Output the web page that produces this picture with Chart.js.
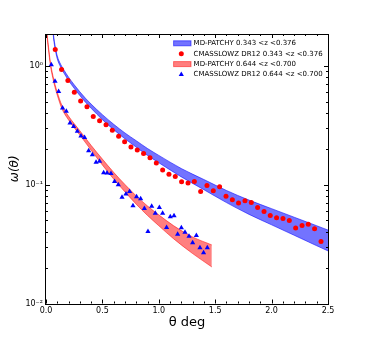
<!DOCTYPE html>
<html>
<head>
<meta charset="utf-8">
<script src="https://cdn.jsdelivr.net/npm/chart.js@4"></script>
<style>
  body { margin: 0; background: #fff; }
  #wrap { width: 365px; height: 338px; }
</style>
</head>
<body>
<div id="wrap"><canvas id="wChart" width="365" height="338"></canvas></div>
<script>
// CMASSLOWZ DR12 0.343<z<0.376 (red dots)
const lowzTheta = [0.082, 0.138, 0.194, 0.251, 0.307, 0.363, 0.419, 0.475, 0.532, 0.588,
  0.644, 0.697, 0.753, 0.809, 0.865, 0.922, 0.978, 1.034, 1.090, 1.146,
  1.202, 1.259, 1.315, 1.371, 1.427, 1.483, 1.539, 1.596, 1.652, 1.707,
  1.764, 1.820, 1.876, 1.933, 1.988, 2.044, 2.101, 2.157, 2.213, 2.270,
  2.325, 2.381, 2.438];
const lowzW = [1.37, 0.93, 0.75, 0.60, 0.505, 0.452, 0.375, 0.344, 0.319, 0.287,
  0.255, 0.229, 0.207, 0.196, 0.183, 0.168, 0.152, 0.133, 0.1225, 0.117,
  0.1056, 0.103, 0.106, 0.0877, 0.0985, 0.0887, 0.0962, 0.080, 0.0745, 0.0699,
  0.0731, 0.0708, 0.0643, 0.0594, 0.0550, 0.0526, 0.0519, 0.0500, 0.0431, 0.0454,
  0.0465, 0.0425, 0.0333];

// CMASSLOWZ DR12 0.644<z<0.700 (blue triangles)
const highzTheta = [0.047, 0.080, 0.112, 0.147, 0.180, 0.213, 0.245, 0.278, 0.310, 0.342,
  0.378, 0.411, 0.444, 0.475, 0.511, 0.541, 0.576, 0.608, 0.641, 0.674,
  0.709, 0.741, 0.771, 0.803, 0.839, 0.872, 0.904, 0.937, 0.969, 1.005,
  1.034, 1.069, 1.102, 1.135, 1.167, 1.200, 1.232, 1.268, 1.300, 1.333,
  1.365, 1.397, 1.430];
const highzW = [1.02, 0.739, 0.608, 0.442, 0.414, 0.330, 0.308, 0.281, 0.257, 0.249,
  0.193, 0.178, 0.154, 0.157, 0.1257, 0.125, 0.124, 0.1064, 0.0996, 0.0785,
  0.0832, 0.0877, 0.0663, 0.0789, 0.0759, 0.0630, 0.0404, 0.0659, 0.0575, 0.0643,
  0.0575, 0.0436, 0.0536, 0.0546, 0.0383, 0.0433, 0.0398, 0.0368, 0.0324, 0.0373,
  0.0294, 0.0267, 0.0294];

// MD-PATCHY 0.343<z<0.376 band (blue)
const lowBandTheta = [0.055, 0.065, 0.08, 0.10, 0.13, 0.16, 0.20, 0.25, 0.30, 0.35,
  0.40, 0.50, 0.60, 0.70, 0.80, 0.90, 1.00, 1.20, 1.40, 1.60,
  1.80, 2.00, 2.20, 2.40, 2.50];
const lowBandLo = [2.559, 1.799, 1.406, 1.143, 0.973, 0.865, 0.752, 0.646, 0.561, 0.493,
  0.439, 0.352, 0.290, 0.243, 0.2065, 0.1762, 0.1528, 0.1161, 0.0906, 0.0706,
  0.0562, 0.0459, 0.0375, 0.0306, 0.0277];
const lowBandHi = [2.704, 1.901, 1.486, 1.208, 1.028, 0.918, 0.802, 0.692, 0.604, 0.533,
  0.476, 0.388, 0.322, 0.272, 0.234, 0.2014, 0.1762, 0.1365, 0.1104, 0.0893,
  0.0741, 0.0628, 0.0532, 0.0451, 0.0415];

// MD-PATCHY 0.644<z<0.700 band (red)
const highBandTheta = [0.0, 0.01, 0.02, 0.04, 0.06, 0.08, 0.10, 0.14, 0.20, 0.30,
  0.40, 0.50, 0.60, 0.70, 0.80, 0.90, 1.00, 1.13, 1.30, 1.47];
const highBandLo = [2.228, 1.730, 1.422, 0.995, 0.791, 0.658, 0.566, 0.4375, 0.350, 0.261,
  0.195, 0.1462, 0.1114, 0.0869, 0.0684, 0.0550, 0.0451, 0.0351, 0.0263, 0.0203];
const highBandHi = [2.355, 1.828, 1.503, 1.052, 0.836, 0.695, 0.598, 0.4667, 0.377, 0.284,
  0.214, 0.164, 0.1268, 0.1002, 0.0804, 0.0661, 0.0557, 0.0452, 0.0363, 0.0311];

const xTicks = [0, 0.5, 1.0, 1.5, 2.0, 2.5];

const blueBand = "rgba(0, 0, 255, 0.55)";
const redBand = "rgba(255, 0, 0, 0.5)";

const toXY = (xs, ys) => xs.map((v, i) => ({ x: v, y: ys[i] }));
const supers = { "0": "\u2070", "-1": "\u207B\u00B9", "-2": "\u207B\u00B2" };

// frame with inward ticks on all four sides, like the matplotlib original
const framePlugin = {
  id: "frame",
  afterDraw(chart) {
    const { ctx, chartArea: a, scales } = chart;
    const x = scales.x, y = scales.y;
    ctx.save();
    ctx.strokeStyle = "#000";
    ctx.lineWidth = 1;
    ctx.beginPath();
    for (let i = 0; i <= 25; i++) {
      const px = Math.round(x.getPixelForValue(i / 10)) + 0.5;
      const len = i % 5 === 0 ? 4 : 2;
      ctx.moveTo(px, a.bottom); ctx.lineTo(px, a.bottom - len);
      ctx.moveTo(px, a.top); ctx.lineTo(px, a.top + len);
    }
    y.ticks.forEach((t) => {
      const lg = Math.log10(t.value);
      const major = Math.abs(lg - Math.round(lg)) < 1e-6;
      const sig = t.value / Math.pow(10, Math.floor(lg + 1e-9));
      if (!major && Math.abs(sig - Math.round(sig)) > 1e-6) return;
      const py = Math.round(y.getPixelForValue(t.value)) + 0.5;
      const len = major ? 4 : 2;
      ctx.moveTo(a.left, py); ctx.lineTo(a.left + len, py);
      ctx.moveTo(a.right, py); ctx.lineTo(a.right - len, py);
    });
    ctx.stroke();
    ctx.strokeRect(Math.round(a.left) - 0.5, Math.round(a.top) + 0.5,
      Math.round(a.right - a.left) + 1, Math.round(a.bottom - a.top));
    ctx.restore();
  }
};

// legend inside the plot, top right, no frame
const legendPlugin = {
  id: "innerLegend",
  afterDraw(chart) {
    const { ctx, chartArea: a } = chart;
    const ds = chart.data.datasets;
    const entries = [1, 4, 3, 5]; // dataset indexes in legend order
    const x0 = a.right - 154.4;
    ctx.save();
    ctx.font = "7px 'DejaVu Sans'";
    ctx.textBaseline = "middle";
    entries.forEach((idx, row) => {
      const d = ds[idx];
      const cy = a.top + 9.3 + row * 10.4;
      if (d.fill) {
        ctx.fillStyle = d.backgroundColor;
        ctx.fillRect(x0, cy - 2.5, 17.4, 5);
        ctx.strokeStyle = d.borderColor;
        ctx.lineWidth = 1;
        ctx.strokeRect(x0, cy - 2.5, 17.4, 5);
      } else {
        ctx.fillStyle = d.pointBackgroundColor;
        ctx.strokeStyle = d.pointBorderColor;
        Chart.helpers.drawPoint(ctx, {
          pointStyle: d.pointStyle, radius: d.pointRadius, rotation: 0, borderWidth: 0
        }, x0 + 7.7, cy);
      }
      ctx.fillStyle = "#000";
      ctx.fillText(d.label, x0 + 20, cy);
    });
    ctx.restore();
  }
};

const ctx = document.getElementById("wChart");

new Chart(ctx, {
  type: "line",
  data: {
    datasets: [
      {
        label: "MD-PATCHY 0.343 <z <0.376 upper",
        data: toXY(lowBandTheta, lowBandHi),
        borderColor: blueBand, borderWidth: 1, pointRadius: 0,
        fill: false, cubicInterpolationMode: "monotone", clip: 0, order: 2
      },
      {
        label: "MD-PATCHY 0.343 <z <0.376",
        data: toXY(lowBandTheta, lowBandLo),
        borderColor: blueBand, backgroundColor: blueBand, borderWidth: 1, pointRadius: 0,
        fill: "-1", cubicInterpolationMode: "monotone", clip: 0, order: 2
      },
      {
        label: "MD-PATCHY 0.644 <z <0.700 upper",
        data: toXY(highBandTheta, highBandHi),
        borderColor: redBand, borderWidth: 1, pointRadius: 0,
        fill: false, cubicInterpolationMode: "monotone", clip: 0, order: 2
      },
      {
        label: "MD-PATCHY 0.644 <z <0.700",
        data: toXY(highBandTheta, highBandLo),
        borderColor: redBand, backgroundColor: redBand, borderWidth: 1, pointRadius: 0,
        fill: "-1", cubicInterpolationMode: "monotone", clip: 0, order: 2
      },
      {
        label: "CMASSLOWZ DR12 0.343 <z <0.376",
        data: toXY(lowzTheta, lowzW),
        showLine: false, pointStyle: "circle", pointRadius: 2.5, pointBorderWidth: 0,
        pointBackgroundColor: "#ff0000", pointBorderColor: "#ff0000", order: 1
      },
      {
        label: "CMASSLOWZ DR12 0.644 <z <0.700",
        data: toXY(highzTheta, highzW),
        showLine: false, pointStyle: "triangle", pointRadius: 3, pointBorderWidth: 0,
        pointBackgroundColor: "#0000ff", pointBorderColor: "#0000ff", order: 1
      }
    ]
  },
  options: {
    responsive: false,
    animation: false,
    devicePixelRatio: 1,
    layout: { padding: { top: 34, right: 37, left: 0, bottom: 0 } },
    scales: {
      x: {
        type: "linear",
        min: 0,
        max: 2.5,
        afterBuildTicks: (s) => { s.ticks = xTicks.map((v) => ({ value: v })); },
        afterFit: (s) => { s.height = 34.5; },
        grid: { display: false, drawTicks: false },
        border: { display: false },
        ticks: {
          padding: 3,
          color: "#000",
          font: { family: "DejaVu Sans", size: 8 },
          callback: (v) => v.toFixed(1)
        },
        title: {
          display: true,
          text: "\u03B8 deg",
          color: "#000",
          font: { family: "DejaVu Sans", size: 13 },
          padding: { top: 0, bottom: 8 }
        }
      },
      y: {
        type: "logarithmic",
        min: 0.01,
        max: 1.85,
        afterFit: (s) => { s.width = 46; },
        grid: { display: false, drawTicks: false },
        border: { display: false },
        ticks: {
          autoSkip: false,
          padding: 3,
          color: "#000",
          font: { family: "DejaVu Sans", size: 8 },
          callback: (v) => {
            const lg = Math.log10(v);
            if (Math.abs(lg - Math.round(lg)) > 1e-6) return "";
            return "10" + supers[String(Math.round(lg))];
          }
        },
        title: {
          display: true,
          text: "\u03C9(\u03B8)",
          color: "#000",
          font: { family: "DejaVu Sans", size: 12, style: "italic" },
          padding: { top: 8, bottom: 0 }
        }
      }
    },
    plugins: {
      legend: { display: false },
      tooltip: { enabled: false }
    }
  },
  plugins: [framePlugin, legendPlugin]
});
</script>
</body>
</html>
